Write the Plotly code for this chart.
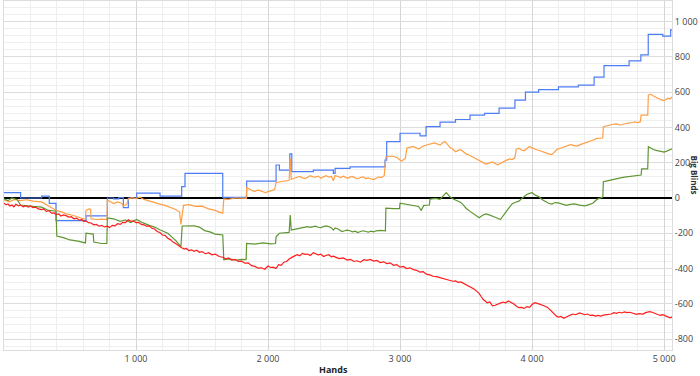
import plotly.graph_objects as go

# ---------------- data: (hands, big blinds won) ----------------
blue_points = [
    (0, 30), (126, 0), (285, 10), (343, -30), (394, -128), (621, -102), (783, 0), (830, -5), (870, 2),
    (904, -55), (942, 0), (1005, 28), (1182, 10), (1346, 64), (1371, 140), (1657, 3), (1838, 96),
    (2061, 187), (2086, 158), (2165, 250), (2180, 150), (2343, 158), (2495, 140), (2508, 168), (2621, 176),
    (2886, 215), (2899, 320), (3000, 367), (3152, 352), (3197, 405), (3303, 430), (3420, 445),
    (3530, 470), (3640, 480), (3750, 510), (3870, 555), (3950, 600), (4050, 615), (4200, 630), (4350, 640),
    (4470, 685), (4545, 750), (4735, 777), (4824, 811), (4880, 928), (4990, 918), (5050, 953), (5063, 953),
]

orange_points = [
    (0, -10), (40, -22), (80, -8), (126, -15), (170, -10), (220, -18), (285, -22), (320, -38), (343, -48),
    (370, -60), (400, -72), (440, -80), (480, -92), (520, -98), (560, -110), (600, -118), (617, -120),
    (621, -70), (645, -62), (656, -64), (660, -118), (700, -122), (740, -120), (780, -122), (783, -12),
    (800, -20), (830, -32), (860, -22), (890, -30), (904, -45), (930, -35), (942, -5), (970, 2), (1000, -3),
    (1030, 5), (1060, -8), (1100, -18), (1140, -25), (1180, -35), (1220, -42), (1260, -52), (1300, -65),
    (1330, -80), (1340, -150), (1360, -42), (1400, -38), (1450, -48), (1500, -46), (1550, -62), (1600, -70),
    (1630, -80), (1657, -86), (1665, -5), (1700, -8), (1750, 0), (1800, -3), (1835, -2), (1838, 60),
    (1855, 52), (1870, 48), (1885, 40), (1900, 38), (1920, 44), (1940, 42), (1960, 34), (1980, 30),
    (2000, 36), (2020, 40), (2035, 46), (2050, 48), (2061, 88), (2100, 92), (2140, 100), (2160, 100),
    (2168, 225), (2176, 105), (2199, 112), (2220, 118), (2240, 122), (2260, 114), (2280, 110), (2300, 118),
    (2320, 126), (2340, 120), (2360, 118), (2380, 124), (2400, 112), (2420, 120), (2440, 126), (2460, 118),
    (2480, 122), (2495, 98), (2508, 128), (2530, 122), (2550, 116), (2570, 124), (2600, 112), (2620, 118),
    (2640, 122), (2660, 114), (2680, 108), (2700, 116), (2720, 120), (2740, 110), (2760, 114), (2780, 108),
    (2800, 104), (2820, 112), (2840, 120), (2860, 116), (2880, 126), (2893, 234), (2940, 238), (2980, 228),
    (3010, 209), (3040, 225), (3052, 283), (3100, 292), (3140, 278), (3180, 296), (3220, 305), (3260, 312),
    (3303, 300), (3320, 312), (3340, 320), (3360, 300), (3380, 286), (3400, 276), (3420, 262), (3440, 270),
    (3460, 274), (3480, 262), (3500, 250), (3525, 242), (3550, 232), (3575, 222), (3600, 210), (3625, 200),
    (3650, 192), (3675, 198), (3700, 204), (3720, 196), (3740, 188), (3760, 196), (3780, 206), (3800, 212),
    (3830, 222), (3850, 218), (3870, 228), (3880, 275), (3900, 282), (3920, 272), (3940, 268), (3960, 282),
    (3980, 292), (4000, 284), (4020, 276), (4040, 272), (4060, 268), (4080, 262), (4100, 256), (4125, 250),
    (4150, 246), (4170, 262), (4190, 276), (4215, 282), (4240, 290), (4265, 296), (4290, 302), (4315, 298),
    (4340, 294), (4370, 304), (4400, 312), (4425, 316), (4450, 322), (4470, 330), (4490, 338), (4535, 340),
    (4540, 404), (4565, 410), (4590, 414), (4615, 418), (4640, 420), (4665, 414), (4690, 418), (4715, 424),
    (4737, 426), (4760, 428), (4780, 432), (4800, 428), (4820, 432), (4826, 470), (4850, 472), (4876, 470),
    (4881, 584), (4900, 588), (4920, 578), (4940, 570), (4960, 562), (4980, 556), (5000, 552), (5015, 560),
    (5030, 566), (5045, 562), (5063, 574),
]

green_points = [
    (0, -5), (30, -15), (60, 0), (100, -10), (126, -40), (170, -42), (220, -48), (285, -52), (330, -68),
    (394, -75), (400, -216), (450, -225), (500, -238), (560, -245), (600, -255), (617, -255), (621, -200),
    (660, -205), (676, -205), (680, -250), (740, -258), (779, -258), (783, -113), (830, -118), (880, -132),
    (920, -125), (960, -140), (1005, -122), (1050, -140), (1100, -155), (1140, -165), (1180, -180),
    (1240, -200), (1300, -240), (1340, -276), (1350, -159), (1400, -160), (1440, -158), (1480, -165),
    (1520, -185), (1560, -192), (1600, -205), (1657, -210), (1665, -350), (1700, -345), (1760, -352),
    (1800, -348), (1834, -350), (1838, -257), (1900, -262), (1960, -255), (2020, -260), (2057, -258),
    (2061, -220), (2086, -200), (2140, -195), (2160, -195), (2168, -97), (2176, -182), (2200, -178),
    (2230, -174), (2250, -170), (2280, -168), (2300, -162), (2320, -166), (2343, -163), (2360, -160),
    (2380, -166), (2400, -168), (2420, -162), (2440, -158), (2460, -162), (2480, -170), (2495, -182),
    (2508, -170), (2530, -176), (2560, -190), (2580, -186), (2600, -182), (2620, -186), (2640, -192),
    (2660, -188), (2680, -196), (2700, -190), (2720, -186), (2740, -190), (2760, -194), (2780, -188),
    (2800, -192), (2820, -186), (2850, -184), (2889, -186), (2893, -57), (2950, -60), (2996, -60),
    (3000, -30), (3050, -35), (3100, -42), (3140, -48), (3160, -70), (3180, -42), (3222, -40), (3227, -6),
    (3270, -2), (3303, -8), (3325, 10), (3350, 30), (3365, 18), (3380, 5), (3400, -4), (3420, -12),
    (3440, -18), (3460, -25), (3480, -40), (3500, -58), (3530, -76), (3560, -92), (3580, -104), (3600, -112),
    (3625, -98), (3650, -90), (3675, -96), (3700, -102), (3730, -112), (3760, -122), (3780, -104),
    (3800, -82), (3825, -56), (3850, -32), (3875, -24), (3900, -18), (3930, 2), (3960, 20), (3980, 26),
    (4000, 30), (4025, 16), (4050, 8), (4075, -8), (4100, -20), (4125, -30), (4150, -35), (4175, -26),
    (4200, -28), (4230, -36), (4260, -42), (4290, -36), (4320, -33), (4360, -40), (4400, -45), (4430, -38),
    (4460, -30), (4480, -16), (4500, -5), (4536, 5), (4540, 92), (4560, 96), (4580, 100), (4610, 106),
    (4640, 112), (4670, 114), (4700, 118), (4737, 122), (4760, 124), (4790, 128), (4810, 126), (4826, 130),
    (4830, 165), (4876, 165), (4881, 291), (4900, 282), (4920, 275), (4940, 270), (4960, 268), (4980, 262),
    (5000, 260), (5020, 266), (5040, 272), (5063, 280),
]

red_points = [
    (0, -30), (15, -38), (30, -34), (45, -45), (60, -40), (75, -50), (90, -36), (110, -44), (126, -40),
    (145, -50), (165, -44), (185, -52), (200, -45), (220, -55), (240, -52), (260, -62), (285, -66),
    (300, -62), (320, -76), (340, -72), (360, -86), (380, -84), (394, -94), (415, -90), (430, -102),
    (450, -96), (470, -100), (490, -108), (510, -106), (530, -118), (550, -114), (570, -126), (590, -122),
    (605, -134), (621, -130), (640, -140), (660, -142), (680, -152), (700, -150), (720, -160), (740, -155),
    (760, -164), (783, -160), (800, -168), (820, -155), (840, -158), (860, -146), (880, -150), (900, -138),
    (920, -140), (942, -124), (960, -132), (980, -130), (1000, -140), (1020, -138), (1040, -150),
    (1060, -152), (1080, -160), (1100, -158), (1120, -172), (1140, -176), (1160, -190), (1180, -196),
    (1200, -210), (1220, -212), (1240, -228), (1260, -236), (1280, -250), (1300, -258), (1320, -270),
    (1346, -282), (1365, -290), (1380, -286), (1400, -298), (1420, -294), (1440, -302), (1460, -296),
    (1480, -308), (1500, -304), (1525, -316), (1550, -310), (1575, -322), (1600, -318), (1630, -332),
    (1657, -336), (1680, -346), (1700, -340), (1725, -352), (1750, -348), (1775, -360), (1800, -358),
    (1825, -370), (1850, -368), (1875, -384), (1900, -388), (1925, -398), (1950, -396), (1975, -404),
    (2000, -386), (2020, -394), (2040, -392), (2060, -400), (2080, -378), (2100, -382), (2120, -364),
    (2140, -360), (2160, -346), (2187, -334), (2200, -330), (2220, -322), (2240, -328), (2260, -314),
    (2280, -320), (2300, -318), (2320, -326), (2343, -310), (2360, -316), (2380, -322), (2400, -318),
    (2420, -332), (2440, -326), (2460, -322), (2480, -334), (2495, -330), (2520, -338), (2540, -344),
    (2570, -340), (2600, -352), (2625, -348), (2650, -360), (2675, -356), (2700, -364), (2725, -350),
    (2750, -354), (2775, -348), (2800, -358), (2825, -354), (2850, -366), (2875, -362), (2900, -372),
    (2925, -368), (2950, -382), (2975, -378), (3000, -392), (3025, -388), (3050, -400), (3075, -396),
    (3100, -406), (3125, -410), (3150, -420), (3175, -418), (3200, -432), (3225, -436), (3250, -444),
    (3275, -446), (3300, -452), (3325, -458), (3350, -462), (3375, -466), (3400, -472), (3420, -470),
    (3440, -478), (3460, -476), (3480, -484), (3500, -490), (3520, -500), (3540, -506), (3560, -516),
    (3580, -528), (3600, -542), (3615, -560), (3630, -576), (3645, -584), (3660, -594), (3680, -590),
    (3700, -612), (3720, -608), (3740, -600), (3760, -596), (3780, -590), (3800, -594), (3820, -584),
    (3840, -590), (3860, -600), (3880, -612), (3900, -622), (3920, -620), (3940, -626), (3960, -616),
    (3980, -620), (4000, -604), (4020, -594), (4040, -598), (4060, -602), (4080, -606), (4100, -614),
    (4120, -622), (4140, -636), (4155, -648), (4170, -662), (4185, -670), (4200, -676), (4220, -672),
    (4240, -682), (4255, -676), (4270, -668), (4290, -664), (4310, -658), (4330, -662), (4360, -652),
    (4380, -658), (4400, -662), (4420, -658), (4440, -666), (4460, -664), (4480, -670), (4500, -666),
    (4520, -670), (4540, -664), (4560, -662), (4580, -656), (4600, -658), (4620, -650), (4640, -654),
    (4660, -648), (4680, -652), (4700, -646), (4720, -650), (4740, -648), (4760, -654), (4790, -660),
    (4810, -656), (4840, -658), (4860, -650), (4890, -644), (4910, -648), (4930, -654), (4950, -660),
    (4970, -666), (4990, -662), (5010, -670), (5030, -676), (5045, -680), (5063, -674),
]

x_tick_vals = [1000, 2000, 3000, 4000, 5000]
x_tick_text = ["1 000", "2 000", "3 000", "4 000", "5 000"]
y_tick_vals = [-800, -600, -400, -200, 0, 200, 400, 600, 800, 1000]
y_tick_text = ["-800", "-600", "-400", "-200", "0", "200", "400", "600", "800", "1 000"]

x_title = "Hands"
y_title = "Big Blinds"

# ---------------- figure ----------------
fig = go.Figure()
series = [
    (blue_points, "#4d7df5", "hv"),
    (orange_points, "#ff9f45", "linear"),
    (green_points, "#5f9632", "linear"),
    (red_points, "#ff1c1c", "linear"),
]
for pts, col, shp in series:
    xs = [p[0] for p in pts]
    ys = [p[1] for p in pts]
    fig.add_trace(go.Scatter(x=xs, y=ys, mode="lines", line=dict(color=col, width=1.2, shape=shp),
                             showlegend=False, hoverinfo="skip"))

fig.update_layout(
    width=700, height=376,
    margin=dict(l=4, r=28, t=1, b=26),
    paper_bgcolor="white", plot_bgcolor="white",
    font=dict(family="Open Sans, DejaVu Sans, sans-serif", size=9, color="#444"),
    showlegend=False,
)
fig.update_xaxes(
    range=[0, 5060], tickvals=x_tick_vals, ticktext=x_tick_text,
    showgrid=True, gridcolor="#d6d6d6", gridwidth=1,
    minor=dict(dtick=200, tick0=0, showgrid=True, gridcolor="#eeeeee", gridwidth=1),
    showline=True, linecolor="#dcdcdc", mirror=True, zeroline=False,
    ticks="", tickfont=dict(size=9, color="#444"),
)
fig.update_yaxes(
    range=[-862, 1117], side="right", tickvals=y_tick_vals, ticktext=y_tick_text,
    showgrid=True, gridcolor="#dcdcdc", gridwidth=1,
    minor=dict(dtick=40, tick0=0, showgrid=True, gridcolor="#efefef", gridwidth=1),
    showline=True, linecolor="#dcdcdc", mirror=True,
    zeroline=True, zerolinecolor="#000000", zerolinewidth=1.6,
    ticks="", tickfont=dict(size=9, color="#444"),
)
fig.add_annotation(text="<b>" + x_title + "</b>", xref="paper", yref="paper",
                   x=(333 - 4) / 668, y=-(369 - 350) / 349, showarrow=False,
                   font=dict(size=9, color="#222"), xanchor="center", yanchor="middle")
fig.add_annotation(text="<b>" + y_title + "</b>", xref="paper", yref="paper",
                   x=(694.5 - 4) / 668, y=(350 - 175) / 349, showarrow=False, textangle=90,
                   font=dict(size=8, color="#333"), xanchor="center", yanchor="middle")

fig.write_html("out.html")
